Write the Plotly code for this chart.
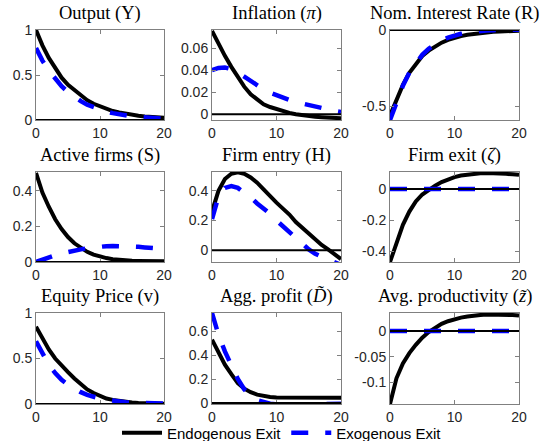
import plotly.graph_objects as go

W, H = 541, 441
t = list(range(21))

titles = ["Output (Y)", "Inflation (<i>π</i>)", "Nom. Interest Rate (R)",
          "Active firms (S)", "Firm entry (H)", "Firm exit (<i>ζ</i>)",
          "Equity Price (v)", "Agg. profit (<i>D̃</i>)", "Avg. productivity (<i>z̃</i>)"]

endo_Y = [1.0, 0.83, 0.69, 0.57, 0.47, 0.39, 0.33, 0.27, 0.22, 0.18, 0.15, 0.125, 0.10, 0.085, 0.07, 0.058, 0.048, 0.04, 0.034, 0.029, 0.025]
exo_Y = [0.80, 0.66, 0.55, 0.455, 0.375, 0.31, 0.255, 0.21, 0.17, 0.14, 0.115, 0.093, 0.076, 0.062, 0.05, 0.041, 0.033, 0.027, 0.022, 0.018, 0.015]

endo_pi = [0.0756, 0.064, 0.053, 0.043, 0.034, 0.025, 0.018, 0.013, 0.009, 0.0065, 0.0045, 0.0028, 0.0012, 0.0, -0.001, -0.0018, -0.0024, -0.0028, -0.0032, -0.0035, -0.0037]
exo_pi = [0.040, 0.042, 0.0424, 0.041, 0.038, 0.034, 0.030, 0.026, 0.0225, 0.0195, 0.017, 0.015, 0.013, 0.011, 0.0095, 0.008, 0.0068, 0.0055, 0.004, 0.003, 0.002]

endo_R = [-0.56, -0.455, -0.36, -0.28, -0.22, -0.17, -0.135, -0.105, -0.083, -0.065, -0.05, -0.04, -0.031, -0.025, -0.02, -0.015, -0.012, -0.01, -0.008, -0.006, -0.005]
exo_R = [-0.59, -0.47, -0.365, -0.28, -0.215, -0.163, -0.123, -0.092, -0.068, -0.05, -0.036, -0.025, -0.017, -0.011, -0.006, -0.003, -0.001, 0.0005, 0.001, 0.0015, 0.002]

endo_S = [0.50, 0.39, 0.31, 0.24, 0.185, 0.14, 0.105, 0.078, 0.057, 0.041, 0.03, 0.022, 0.016, 0.012, 0.009, 0.007, 0.006, 0.005, 0.005, 0.004, 0.004]
exo_S = [0.0, 0.014, 0.027, 0.038, 0.048, 0.057, 0.064, 0.071, 0.077, 0.082, 0.086, 0.089, 0.090, 0.090, 0.089, 0.087, 0.085, 0.082, 0.079, 0.076, 0.073]

endo_H = [0.26, 0.40, 0.48, 0.515, 0.525, 0.515, 0.49, 0.455, 0.41, 0.36, 0.32, 0.28, 0.24, 0.19, 0.15, 0.115, 0.075, 0.035, 0.005, -0.03, -0.06]
exo_H = [0.21, 0.36, 0.42, 0.432, 0.42, 0.39, 0.355, 0.315, 0.28, 0.245, 0.2, 0.16, 0.12, 0.075, 0.04, 0.005, -0.025, -0.045, -0.065, -0.085, -0.1]

endo_zeta = [-0.47, -0.34, -0.23, -0.145, -0.08, -0.035, -0.003, 0.022, 0.045, 0.063, 0.077, 0.087, 0.094, 0.099, 0.102, 0.103, 0.103, 0.101, 0.098, 0.095, 0.092]
exo_zeta = [0.0] * 21

endo_v = [0.85, 0.72, 0.60, 0.50, 0.42, 0.35, 0.28, 0.22, 0.16, 0.12, 0.085, 0.06, 0.045, 0.033, 0.024, 0.017, 0.012, 0.008, 0.006, 0.004, 0.003]
exo_v = [0.69, 0.55, 0.43, 0.34, 0.265, 0.21, 0.165, 0.13, 0.10, 0.077, 0.06, 0.046, 0.035, 0.027, 0.02, 0.015, 0.012, 0.009, 0.007, 0.005, 0.004]

endo_D = [0.528, 0.42, 0.32, 0.24, 0.165, 0.12, 0.09, 0.07, 0.057, 0.05, 0.047, 0.046, 0.046, 0.046, 0.045, 0.045, 0.045, 0.045, 0.045, 0.045, 0.045]
exo_D = [0.75, 0.57, 0.43, 0.31, 0.20, 0.115, 0.06, 0.025, 0.005, -0.006, -0.011, -0.013, -0.013, -0.012, -0.011, -0.010, -0.009, -0.008, -0.007, -0.006, -0.005]

endo_z = [-0.142, -0.092, -0.063, -0.043, -0.027, -0.013, -0.002, 0.007, 0.014, 0.019, 0.023, 0.026, 0.028, 0.030, 0.031, 0.032, 0.032, 0.032, 0.031, 0.031, 0.030]
exo_z = [0.0] * 21

endo = [endo_Y, endo_pi, endo_R, endo_S, endo_H, endo_zeta, endo_v, endo_D, endo_z]
exo = [exo_Y, exo_pi, exo_R, exo_S, exo_H, exo_zeta, exo_v, exo_D, exo_z]

y_ranges = [[0, 1], [-0.0053, 0.0765], [-0.59, 0.0], [0, 0.505], [-0.08, 0.527],
            [-0.47, 0.11], [0, 1], [-0.008, 0.75], [-0.142, 0.035]]
y_tickvals = [[0, 0.5, 1], [0, 0.02, 0.04, 0.06], [-0.5, 0], [0, 0.2, 0.4], [0, 0.2, 0.4],
              [-0.4, -0.2, 0], [0, 0.5, 1], [0, 0.2, 0.4, 0.6], [-0.1, -0.05, 0]]
y_ticktext = [["0", "0.5", "1"], ["0", "0.02", "0.04", "0.06"], ["-0.5", "0"], ["0", "0.2", "0.4"],
              ["0", "0.2", "0.4"], ["-0.4", "-0.2", "0"], ["0", "0.5", "1"],
              ["0", "0.2", "0.4", "0.6"], ["-0.1", "-0.05", "0"]]
x_tickvals = [0, 10, 20]
x_ticktext = ["0", "10", "20"]

col_px = [(36, 164), (212, 341), (390, 519)]
row_px = [(30, 120), (172, 262), (313, 404)]

fig = go.Figure()
axis_color = "#808080"
tick_font = dict(family="Liberation Sans, Arial, sans-serif", size=14, color="#262626")

for i in range(9):
    r, c = divmod(i, 3)
    n = "" if i == 0 else str(i + 1)
    xa, ya = "x" + n, "y" + n
    x0, x1 = col_px[c]
    y0, y1 = row_px[r]
    fig.add_trace(go.Scatter(x=t, y=endo[i], mode="lines", xaxis=xa, yaxis=ya,
                             line=dict(color="black", width=4),
                             name="Endogenous Exit", showlegend=(i == 0)))
    fig.add_trace(go.Scatter(x=t, y=exo[i], mode="lines", xaxis=xa, yaxis=ya,
                             line=dict(color="#0000ff", width=4.5, dash="17px,17px"),
                             name="Exogenous Exit", showlegend=(i == 0)))
    common = dict(showline=True, linecolor=axis_color, linewidth=1, mirror="ticks",
                  ticks="inside", ticklen=4, tickcolor=axis_color, showgrid=False,
                  zeroline=False, tickfont=tick_font, automargin=False)
    fig.layout["xaxis" + n] = dict(domain=[x0 / W, x1 / W], anchor=ya, range=[0, 20],
                                   tickvals=x_tickvals, ticktext=x_ticktext, **common)
    fig.layout["yaxis" + n] = dict(domain=[1 - y1 / H, 1 - y0 / H], anchor=xa, range=y_ranges[i],
                                   tickvals=y_tickvals[i], ticktext=y_ticktext[i], **common)
    fig.add_shape(type="line", xref=xa + " domain", yref=ya, x0=0, x1=1, y0=0, y1=0,
                  line=dict(color="black", width=2), layer="above")
    fig.add_annotation(text=titles[i], xref="paper", yref="paper",
                       x=(x0 + x1) / 2 / W, y=1 - (y0 - 4) / H, xanchor="center", yanchor="bottom",
                       showarrow=False,
                       font=dict(family="Liberation Serif, Times New Roman, serif", size=18.5, color="black"))

fig.update_layout(
    template="none",
    width=W, height=H, margin=dict(l=0, r=0, t=0, b=0, autoexpand=False),
    paper_bgcolor="white", plot_bgcolor="white",
    hovermode=False,
    legend=dict(orientation="h", x=282 / W, xanchor="center", y=1 - 433 / H, yanchor="middle",
                bgcolor="rgba(0,0,0,0)", font=dict(family="Liberation Sans, Arial, sans-serif", size=15, color="black"),
                itemwidth=40, tracegroupgap=0),
)

fig.write_html("out.html", config={"displayModeBar": False},
               post_script="document.body.style.margin='0';document.body.style.padding='0';")
